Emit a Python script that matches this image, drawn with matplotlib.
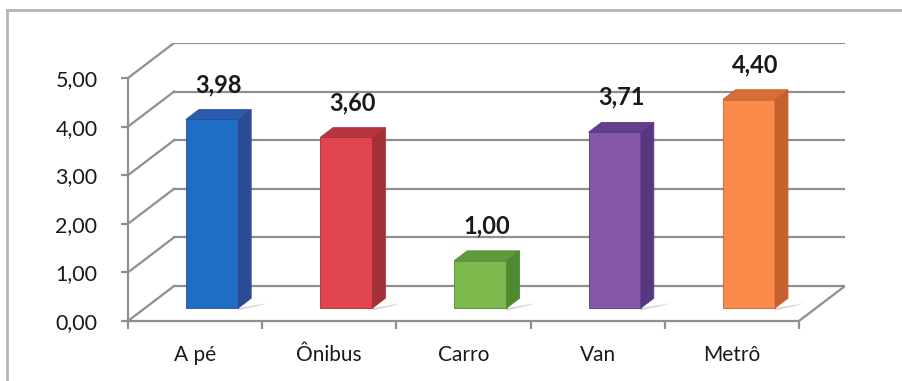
import matplotlib.pyplot as plt
from matplotlib.patches import Polygon

# dados
categorias = ["A pé", "Ônibus", "Carro", "Van", "Metrô"]
valores = [3.98, 3.60, 1.00, 3.71, 4.40]
rotulos = ["3,98", "3,60", "1,00", "3,71", "4,40"]
yticks = [0, 1, 2, 3, 4, 5]
ytick_labels = ["0,00", "1,00", "2,00", "3,00", "4,00", "5,00"]

cor_frente = ["#1f6ec6", "#e0454f", "#7dba4e", "#8656a8", "#f98a4a"]
cor_lado = ["#2b4c94", "#a4303a", "#4f8a30", "#573880", "#c4612d"]
cor_topo = ["#2a5bb0", "#b8353f", "#5d9a3a", "#64408f", "#d86d36"]

plt.rcParams['font.family'] = ['Lato', 'DejaVu Sans']

fig = plt.figure(figsize=(9.03, 3.81), dpi=100)

# moldura externa (só topo e esquerda aparecem)
fig.add_artist(plt.Line2D([7 / 903, 1], [1 - 10 / 381, 1 - 10 / 381],
                          color="#b4b4b4", lw=2, transform=fig.transFigure))
fig.add_artist(plt.Line2D([7 / 903, 7 / 903], [0, 1 - 10 / 381],
                          color="#b4b4b4", lw=2, transform=fig.transFigure))

# profundidade "3D" em unidades de dados
DX, DY = 0.343, 0.72
f0, fd = 0.37, 0.28      # início e espessura da barra na profundidade
larg = 0.39
persp = 0.975

ax = fig.add_axes([128 / 903, 60 / 381, 717 / 903, 278 / 381])
ax.set_xlim(0, 5 + DX)
ax.set_ylim(0, 5 + DY)

grid = "#8f8f8f"
for v in yticks:
    ax.plot([DX, 5 + DX], [v + DY, v + DY], color=grid, lw=1.6, zorder=1)
    ax.plot([0, DX], [v, v + DY], color=grid, lw=1.6, zorder=1)
ax.plot([5, 5 + DX], [0, DY], color=grid, lw=1.6, zorder=1)

for i, v in enumerate(valores):
    x0 = i + 0.5 - larg / 2 + f0 * DX
    b = f0 * DY
    t = b + v * persp
    ddx, ddy = fd * DX, fd * DY
    # sombra no chão
    ax.add_patch(Polygon([(x0 + larg, b), (x0 + larg + ddx + 0.12, b + ddy * 0.5),
                          (x0 + larg + ddx + 0.05, b + ddy * 0.2), (x0 + larg, b - 0.05)],
                         closed=True, fc="#d8d8d8", ec="none", zorder=2))
    ax.add_patch(Polygon([(x0, b), (x0 + larg, b), (x0 + larg, t), (x0, t)],
                         closed=True, fc=cor_frente[i], ec=cor_lado[i], lw=0.6, zorder=3))
    ax.add_patch(Polygon([(x0 + larg, b), (x0 + larg + ddx, b + ddy),
                          (x0 + larg + ddx, t + ddy), (x0 + larg, t)],
                         closed=True, fc=cor_lado[i], ec=cor_lado[i], lw=0.6, zorder=3))
    ax.add_patch(Polygon([(x0, t), (x0 + larg, t), (x0 + larg + ddx, t + ddy), (x0 + ddx, t + ddy)],
                         closed=True, fc=cor_topo[i], ec=cor_lado[i], lw=0.6, zorder=3))
    ax.text(x0 + larg / 2 + ddx / 2, t + ddy + 0.28, rotulos[i], ha="center", va="bottom",
            fontsize=17, fontweight="bold", color="#1a1a1a", zorder=4)

for s in ["top", "right"]:
    ax.spines[s].set_visible(False)
ax.spines["left"].set_bounds(0, 5)
ax.spines["bottom"].set_bounds(0, 5)
for s in ["left", "bottom"]:
    ax.spines[s].set_color(grid)
    ax.spines[s].set_linewidth(1.6)

ax.set_yticks(yticks)
ax.set_yticklabels(ytick_labels)
ax.tick_params(axis="y", length=5, width=1.6, color=grid, pad=17, labelsize=15.5, labelcolor="#1a1a1a")

ax.set_xticks([0, 1, 2, 3, 4, 5])
ax.set_xticklabels([])
ax.tick_params(axis="x", length=6, width=1.6, color=grid, direction="out")
ax.set_xticks([i + 0.5 for i in range(5)], minor=True)
ax.set_xticklabels(categorias, minor=True)
ax.tick_params(axis="x", which="minor", length=0, pad=17, labelsize=15, labelcolor="#1a1a1a")

fig.savefig("out.png", dpi=100)
